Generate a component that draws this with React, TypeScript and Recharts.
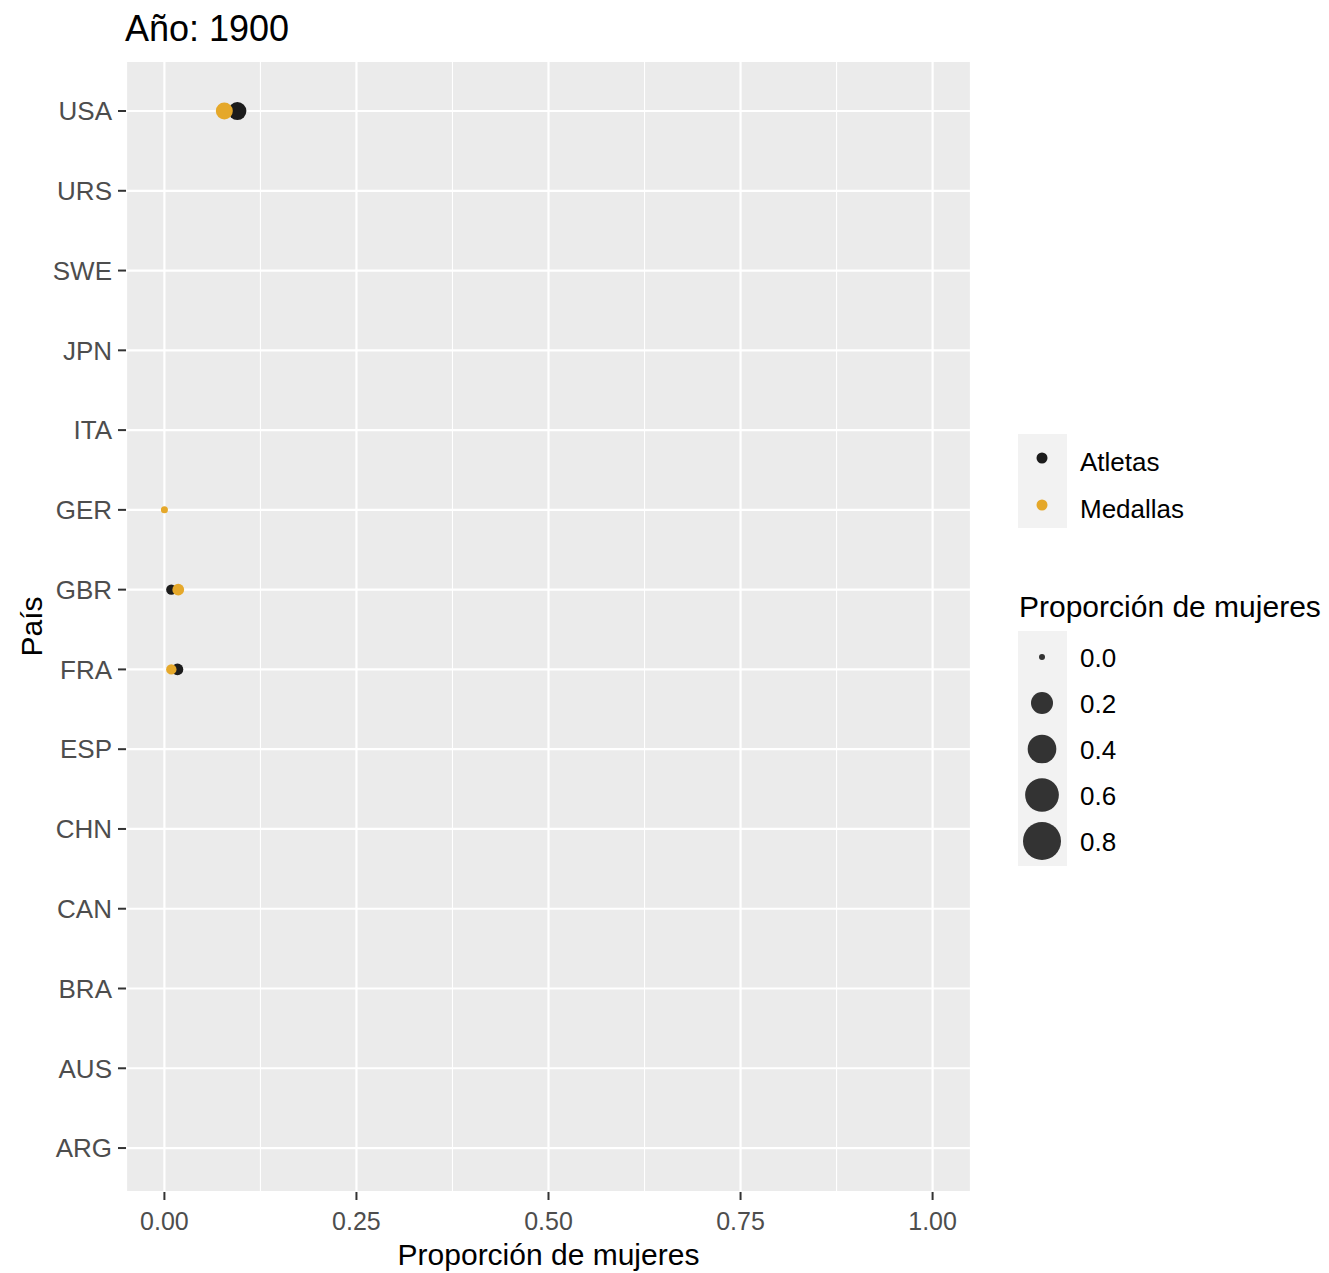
import React from 'react';
import { ScatterChart, Scatter, XAxis, YAxis, CartesianGrid, ReferenceLine, Legend } from 'recharts';

// ---- data ----
const countries = ['USA', 'URS', 'SWE', 'JPN', 'ITA', 'GER', 'GBR', 'FRA', 'ESP', 'CHN', 'CAN', 'BRA', 'AUS', 'ARG'];
const atletasCountries = ['USA', 'GBR', 'FRA'];
const atletasProps = [0.095, 0.009, 0.017];
const medallasCountries = ['USA', 'GER', 'GBR', 'FRA'];
const medallasProps = [0.078, 0.0, 0.018, 0.009];
const xTicks = [0, 0.25, 0.5, 0.75, 1];
const xMinor = [0.125, 0.375, 0.625, 0.875];
const sizeBreaks = [0, 0.2, 0.4, 0.6, 0.8];
const seriesNames = ['Atletas', 'Medallas'];
const seriesColors = ['#1C1C1C', '#E5A82A'];
const title = 'Año: 1900';
const xTitle = 'Proporción de mujeres';
const yTitle = 'País';
const sizeTitle = 'Proporción de mujeres';

const FONT = '"Liberation Sans", Arial, sans-serif';

const toRows = (cs: string[], ps: number[]) =>
  cs.map((c, i) => ({ x: ps[i], y: countries.indexOf(c) + 1, p: ps[i] }));

const atletasData = toRows(atletasCountries, atletasProps);
const medallasData = toRows(medallasCountries, medallasProps);

// size scale (diameter linear in sqrt of value)
const diameter = (v: number) => 6 + 35.8 * Math.sqrt(Math.max(0, v));

const makeShape = (color: string) => (props: any) => {
  const { cx, cy, payload } = props;
  if (cx == null || cy == null) return null;
  return <circle cx={cx} cy={cy} r={diameter(payload.p) / 2 + 0.5} fill={color} />;
};

const YTitle = (props: any) => {
  const vb = props.viewBox || {};
  const cx = 31;
  const cy = (vb.y ?? 61) + (vb.height ?? 1131) / 2;
  return (
    <text
      x={cx}
      y={cy}
      transform={`rotate(-90 ${cx} ${cy})`}
      textAnchor="middle"
      dominantBaseline="central"
      fontSize={30}
      fontFamily={FONT}
      fill="#000"
    >
      {yTitle}
    </text>
  );
};

const LegendContent = () => {
  // coordinates relative to wrapper at (1010, 425)
  const ox = 1010;
  const oy = 425;
  const keyX = 1018 - ox;
  const keyW = 49;
  const rowH = 47;
  const l1Top = 434 - oy;
  const l2TitleBase = 617 - oy;
  const l2Top = 631 - oy;
  const cx = 1042 - ox;
  const textX = 1080 - ox;
  return (
    <svg width={319} height={460} style={{ display: 'block' }}>
      <rect x={keyX} y={l1Top} width={keyW} height={rowH * seriesNames.length} fill="#F2F2F2" />
      {seriesNames.map((n, i) => (
        <g key={n}>
          <circle cx={cx} cy={l1Top + rowH * i + 24} r={5.5} fill={seriesColors[i]} />
          <text x={textX} y={l1Top + rowH * i + 37} fontSize={26} fontFamily={FONT} fill="#000">
            {n}
          </text>
        </g>
      ))}
      <text x={keyX + 1} y={l2TitleBase} fontSize={30} fontFamily={FONT} fill="#000">
        {sizeTitle}
      </text>
      <rect x={keyX} y={l2Top} width={keyW} height={rowH * sizeBreaks.length} fill="#F2F2F2" />
      {sizeBreaks.map((b, i) => (
        <g key={b}>
          <circle cx={cx} cy={l2Top + 26 + 46 * i} r={diameter(b) / 2} fill="#333333" />
          <text x={textX} y={l2Top + 36 + 46 * i} fontSize={26} fontFamily={FONT} fill="#000">
            {b.toFixed(1)}
          </text>
        </g>
      ))}
    </svg>
  );
};

export default function App() {
  return (
    <div style={{ position: 'absolute', left: 0, top: 0, width: 1329, height: 1273, background: '#fff' }}>
      <svg
        width={1329}
        height={60}
        style={{ position: 'absolute', left: 0, top: 0, zIndex: 2, pointerEvents: 'none' }}
      >
        <text x={125} y={41} fontSize={36} fontFamily={FONT} fill="#000">
          {title}
        </text>
      </svg>
      <ScatterChart width={1329} height={1273} margin={{ top: 61, right: 358, bottom: 0, left: 0 }}>
        <CartesianGrid fill="#EBEBEB" stroke="#FFFFFF" strokeWidth={2.2} />
        {xMinor.map((m) => (
          <ReferenceLine key={m} x={m} stroke="#FFFFFF" strokeWidth={1.1} ifOverflow="hidden" />
        ))}
        <XAxis
          type="number"
          dataKey="x"
          domain={[-0.05, 1.05]}
          ticks={xTicks}
          interval={0}
          allowDataOverflow
          tickFormatter={(v: number) => v.toFixed(2)}
          axisLine={false}
          tickLine={{ stroke: '#333333', strokeWidth: 2 }}
          tickSize={8}
          tickMargin={12}
          tick={{ fill: '#4D4D4D', fontSize: 25, fontFamily: FONT }}
          height={81}
          label={{
            value: xTitle,
            position: 'insideBottom',
            offset: 8,
            fill: '#000',
            fontSize: 30,
            fontFamily: FONT,
          }}
        />
        <YAxis
          type="number"
          dataKey="y"
          domain={[0.373, 14.551]}
          reversed
          ticks={countries.map((_, i) => i + 1)}
          interval={0}
          allowDataOverflow
          tickFormatter={(v: number) => countries[v - 1] ?? ''}
          axisLine={false}
          tickLine={{ stroke: '#333333', strokeWidth: 2 }}
          tickSize={8}
          tickMargin={6}
          tick={{ fill: '#4D4D4D', fontSize: 26, fontFamily: FONT }}
          width={126}
          label={<YTitle />}
        />
        <Scatter
          name={seriesNames[0]}
          data={atletasData}
          fill={seriesColors[0]}
          shape={makeShape(seriesColors[0])}
          isAnimationActive={false}
        />
        <Scatter
          name={seriesNames[1]}
          data={medallasData}
          fill={seriesColors[1]}
          shape={makeShape(seriesColors[1])}
          isAnimationActive={false}
        />
        <Legend
          layout="vertical"
          align="center"
          verticalAlign="middle"
          width={319}
          height={460}
          content={<LegendContent />}
          wrapperStyle={{ position: 'absolute', left: 1010, top: 425, width: 319, height: 460, margin: 0 }}
        />
      </ScatterChart>
    </div>
  );
}
